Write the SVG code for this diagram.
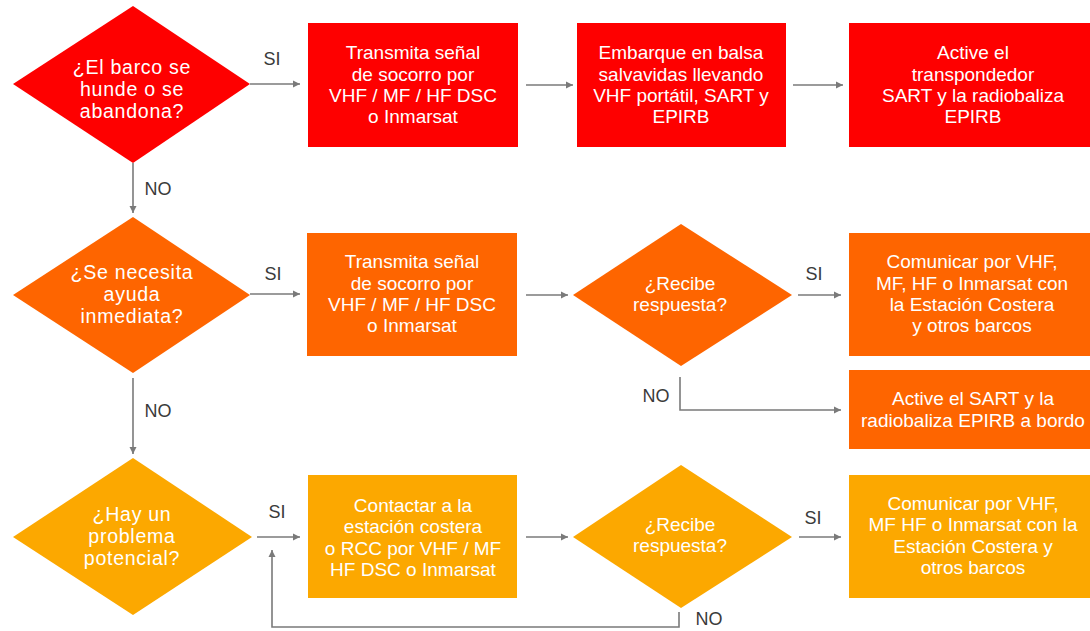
<svg xmlns="http://www.w3.org/2000/svg" width="1090" height="631" viewBox="0 0 1090 631">
<defs>
<style>
.red{fill:#fe0000}
.org{fill:#fe6500}
.yel{fill:#fca800}
.t{font-family:"Liberation Sans",Arial,sans-serif;fill:#fff;text-anchor:middle}
.bt{font-size:19px}
.dt{font-size:19.6px;letter-spacing:0.7px}
.rt{font-size:19px}
.lbl{font-family:"Liberation Sans",Arial,sans-serif;font-size:18px;fill:#3a3a3a;text-anchor:middle}
.c{fill:none;stroke:#7a7a7a;stroke-width:1.6}
</style>
<marker id="ah" markerWidth="8" markerHeight="8" refX="7" refY="4" orient="auto" markerUnits="userSpaceOnUse">
<path d="M0,0.5 L7,4 L0,7.5 Z" fill="#7a7a7a"/>
</marker>
</defs>
<rect width="1090" height="631" fill="#fff"/>

<g id="connectors">
<line class="c" x1="250" y1="84" x2="300" y2="84" marker-end="url(#ah)"/>
<line class="c" x1="526" y1="85" x2="573" y2="85" marker-end="url(#ah)"/>
<line class="c" x1="793" y1="85" x2="843" y2="85" marker-end="url(#ah)"/>
<line class="c" x1="133" y1="163" x2="133" y2="213" marker-end="url(#ah)"/>
<line class="c" x1="250" y1="294" x2="300" y2="294" marker-end="url(#ah)"/>
<line class="c" x1="526" y1="295" x2="568" y2="295" marker-end="url(#ah)"/>
<line class="c" x1="798" y1="295" x2="841" y2="295" marker-end="url(#ah)"/>
<polyline class="c" points="680,377 680,410 841,410" marker-end="url(#ah)"/>
<line class="c" x1="133" y1="378" x2="133" y2="454" marker-end="url(#ah)"/>
<line class="c" x1="257" y1="537" x2="300" y2="537" marker-end="url(#ah)"/>
<line class="c" x1="526" y1="537" x2="568" y2="537" marker-end="url(#ah)"/>
<line class="c" x1="799" y1="537" x2="841" y2="537" marker-end="url(#ah)"/>
<polyline class="c" points="679,612 679,627 272,627 272,550" marker-end="url(#ah)"/>
<text class="lbl" x="272" y="65">SI</text>
<text class="lbl" x="158" y="195">NO</text>
<text class="lbl" x="273" y="280">SI</text>
<text class="lbl" x="814" y="280">SI</text>
<text class="lbl" x="656" y="402">NO</text>
<text class="lbl" x="158" y="417">NO</text>
<text class="lbl" x="277" y="518">SI</text>
<text class="lbl" x="813" y="524">SI</text>
<text class="lbl" x="709" y="625">NO</text>
</g>

<g id="d1">
<polygon class="red" points="13,84 133,6 250,84 133,163"/>
<text class="t dt"><tspan x="132" y="74">¿El barco se</tspan><tspan x="132" y="96">hunde o se</tspan><tspan x="132" y="118">abandona?</tspan></text>
</g>
<g id="b1">
<rect class="red" x="308" y="23" width="210" height="124"/>
<text class="t bt"><tspan x="413" y="59">Transmita señal</tspan><tspan x="413" y="81">de socorro por</tspan><tspan x="413" y="102">VHF / MF / HF DSC</tspan><tspan x="413" y="123">o Inmarsat</tspan></text>
</g>
<g id="b2">
<rect class="red" x="577" y="23" width="209" height="124"/>
<text class="t bt"><tspan x="681" y="59">Embarque en balsa</tspan><tspan x="681" y="81">salvavidas llevando</tspan><tspan x="681" y="102">VHF portátil, SART y</tspan><tspan x="681" y="123">EPIRB</tspan></text>
</g>
<g id="b3">
<rect class="red" x="849" y="23" width="241" height="124"/>
<text class="t bt"><tspan x="973" y="59">Active el</tspan><tspan x="973" y="81">transpondedor</tspan><tspan x="973" y="102">SART y la radiobaliza</tspan><tspan x="973" y="123">EPIRB</tspan></text>
</g>

<g id="d2">
<polygon class="org" points="13,295 133,217 250,295 133,373"/>
<text class="t dt"><tspan x="132" y="279">¿Se necesita</tspan><tspan x="132" y="301">ayuda</tspan><tspan x="132" y="323">inmediata?</tspan></text>
</g>
<g id="b4">
<rect class="org" x="307" y="233" width="210" height="123"/>
<text class="t bt"><tspan x="412" y="268">Transmita señal</tspan><tspan x="412" y="290">de socorro por</tspan><tspan x="412" y="311">VHF / MF / HF DSC</tspan><tspan x="412" y="332">o Inmarsat</tspan></text>
</g>
<g id="d3">
<polygon class="org" points="573,295 681,224 792,295 681,366"/>
<text class="t rt"><tspan x="680" y="290">¿Recibe</tspan><tspan x="680" y="311">respuesta?</tspan></text>
</g>
<g id="b5">
<rect class="org" x="849" y="233" width="241" height="123"/>
<text class="t bt"><tspan x="972" y="268">Comunicar por VHF,</tspan><tspan x="972" y="290">MF, HF o Inmarsat con</tspan><tspan x="972" y="311">la Estación Costera</tspan><tspan x="972" y="332">y otros barcos</tspan></text>
</g>
<g id="b6">
<rect class="org" x="849" y="370" width="241" height="79"/>
<text class="t bt"><tspan x="973" y="405">Active el SART y la</tspan><tspan x="973" y="427">radiobaliza EPIRB a bordo</tspan></text>
</g>

<g id="d4">
<polygon class="yel" points="13,537 133,458 252,537 133,615"/>
<text class="t dt"><tspan x="132" y="521">¿Hay un</tspan><tspan x="132" y="543">problema</tspan><tspan x="132" y="565">potencial?</tspan></text>
</g>
<g id="b7">
<rect class="yel" x="308" y="475" width="209" height="123"/>
<text class="t bt"><tspan x="413" y="512">Contactar a la</tspan><tspan x="413" y="533">estación costera</tspan><tspan x="413" y="555">o RCC por VHF / MF</tspan><tspan x="413" y="576">HF DSC o Inmarsat</tspan></text>
</g>
<g id="d5">
<polygon class="yel" points="573,537 681,465 792,537 681,608"/>
<text class="t rt"><tspan x="680" y="531">¿Recibe</tspan><tspan x="680" y="552">respuesta?</tspan></text>
</g>
<g id="b8">
<rect class="yel" x="849" y="475" width="241" height="123"/>
<text class="t bt"><tspan x="973" y="510">Comunicar por VHF,</tspan><tspan x="973" y="531">MF HF o Inmarsat con la</tspan><tspan x="973" y="553">Estación Costera y</tspan><tspan x="973" y="574">otros barcos</tspan></text>
</g>
</svg>
